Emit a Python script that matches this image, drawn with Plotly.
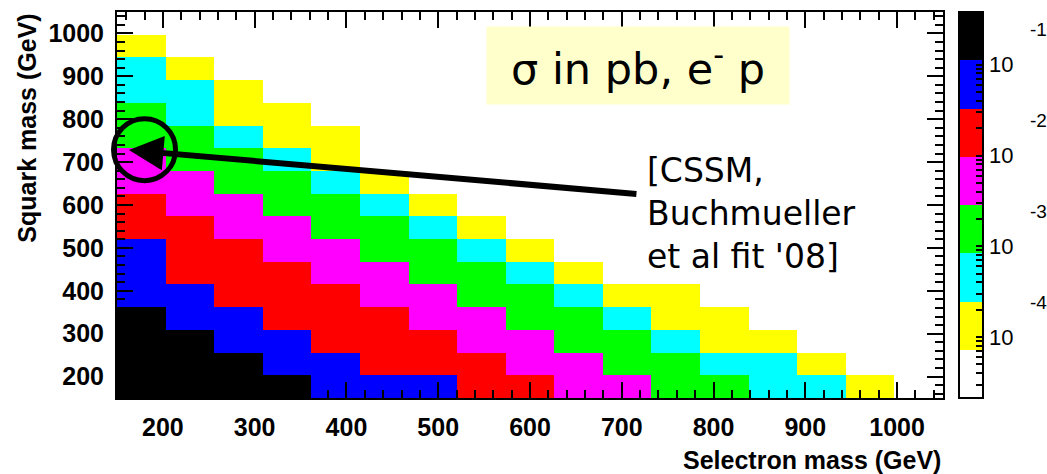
import numpy as np
import plotly.graph_objects as go

# ---------------- data ----------------
# Bin edges (GeV): 17 bins between 150 and 1050 on both axes
selectron_edges = np.linspace(150, 1050, 18)
squark_edges = np.linspace(150, 1050, 18)

# Cross section sigma (pb), one row per squark-mass bin (bottom -> top),
# one column per selectron-mass bin (left -> right); None = no entry
sigma_row_00 = [0.21, 0.21, 0.21, 0.21, 0.062, 0.062, 0.062, 0.018, 0.018, 0.0052, 0.0052, 0.0016, 0.0016, 0.00046, 0.00046, 0.00013, None]
sigma_row_01 = [0.21, 0.21, 0.21, 0.062, 0.062, 0.018, 0.018, 0.018, 0.0052, 0.0052, 0.0016, 0.0016, 0.00046, 0.00046, 0.00013, None, None]
sigma_row_02 = [0.21, 0.21, 0.062, 0.062, 0.018, 0.018, 0.018, 0.0052, 0.0052, 0.0016, 0.0016, 0.00046, 0.00013, 0.00013, None, None, None]
sigma_row_03 = [0.21, 0.062, 0.062, 0.018, 0.018, 0.018, 0.0052, 0.0052, 0.0016, 0.0016, 0.00046, 0.00013, 0.00013, None, None, None, None]
sigma_row_04 = [0.062, 0.062, 0.018, 0.018, 0.018, 0.0052, 0.0052, 0.0016, 0.0016, 0.00046, 0.00013, 0.00013, None, None, None, None, None]
sigma_row_05 = [0.062, 0.018, 0.018, 0.018, 0.0052, 0.0052, 0.0016, 0.0016, 0.00046, 0.00013, None, None, None, None, None, None, None]
sigma_row_06 = [0.062, 0.018, 0.018, 0.0052, 0.0052, 0.0016, 0.0016, 0.00046, 0.00013, None, None, None, None, None, None, None, None]
sigma_row_07 = [0.018, 0.018, 0.0052, 0.0052, 0.0016, 0.0016, 0.00046, 0.00013, None, None, None, None, None, None, None, None, None]
sigma_row_08 = [0.018, 0.0052, 0.0052, 0.0016, 0.0016, 0.00046, 0.00013, None, None, None, None, None, None, None, None, None, None]
sigma_row_09 = [0.0052, 0.0052, 0.0016, 0.0016, 0.00046, 0.00013, None, None, None, None, None, None, None, None, None, None, None]
sigma_row_10 = [0.0052, 0.0016, 0.0016, 0.00046, 0.00013, None, None, None, None, None, None, None, None, None, None, None, None]
sigma_row_11 = [0.0016, 0.0016, 0.00046, 0.00013, 0.00013, None, None, None, None, None, None, None, None, None, None, None, None]
sigma_row_12 = [0.0016, 0.00046, 0.00013, 0.00013, None, None, None, None, None, None, None, None, None, None, None, None, None]
sigma_row_13 = [0.00046, 0.00046, 0.00013, None, None, None, None, None, None, None, None, None, None, None, None, None, None]
sigma_row_14 = [0.00046, 0.00013, None, None, None, None, None, None, None, None, None, None, None, None, None, None, None]
sigma_row_15 = [0.00013, None, None, None, None, None, None, None, None, None, None, None, None, None, None, None, None]
sigma_row_16 = [None] * 17

sigma_rows = [sigma_row_00, sigma_row_01, sigma_row_02, sigma_row_03, sigma_row_04,
              sigma_row_05, sigma_row_06, sigma_row_07, sigma_row_08, sigma_row_09,
              sigma_row_10, sigma_row_11, sigma_row_12, sigma_row_13, sigma_row_14,
              sigma_row_15, sigma_row_16]

# colour-axis range (log10 sigma)
log_sigma_min = -4.67
log_sigma_max = -0.42
palette = ["#ffffff", "#ffff00", "#00ffff", "#00ff00", "#ff00ff", "#ff0000", "#0000ff", "#000000"]

axis_ticks = [200, 300, 400, 500, 600, 700, 800, 900, 1000]
cbar_decades = [-1, -2, -3, -4]

# CSSM fit point (Buchmueller et al. '08)
cssm_fit = (180, 729)
arrow_tip = (163, 728)

# ---------------- figure ----------------
z = np.array([[np.nan if v is None else np.log10(v) for v in row] for row in sigma_rows])

n = len(palette)
colorscale = []
for k, c in enumerate(palette):
    colorscale.append([k / n, c])
    colorscale.append([(k + 1) / n, c])

minor_vals, minor_text = [], []
for d in range(-5, 0):
    for m in range(1, 10):
        v = d + np.log10(m)
        if log_sigma_min <= v <= log_sigma_max:
            minor_vals.append(v)
            minor_text.append("10" if m == 1 else " ")

fig = go.Figure()
fig.add_trace(go.Heatmap(
    x=selectron_edges, y=squark_edges, z=z,
    zmin=log_sigma_min, zmax=log_sigma_max,
    colorscale=colorscale, hoverongaps=False,
    colorbar=dict(
        x=1.0194, xanchor="left", xpad=0, y=0.5, yanchor="middle", ypad=0,
        len=1, lenmode="fraction", thickness=24, thicknessmode="pixels",
        outlinecolor="black", outlinewidth=2,
        tickmode="array", tickvals=minor_vals, ticktext=minor_text,
        ticks="inside", ticklen=8, tickcolor="black", tickwidth=1.5,
        tickfont=dict(family="Liberation Sans, Arial", size=22, color="black"),
    ),
))

axis_common = dict(
    range=[150, 1050], tickmode="array", tickvals=axis_ticks,
    ticks="inside", ticklen=16, tickwidth=1.5, tickcolor="black",
    minor=dict(ticks="inside", dtick=20, ticklen=8, tickwidth=1.5, tickcolor="black"),
    showline=True, linecolor="black", linewidth=2, mirror="ticks",
    showgrid=False, zeroline=False,
    tickfont=dict(family="Liberation Sans, Arial", size=25, color="black", weight="bold"),
)
fig.update_xaxes(**axis_common, ticklabelstandoff=6)
fig.update_yaxes(**axis_common, ticklabelstandoff=6)

annotations = []
# axis titles (ROOT style, aligned to axis ends)
annotations.append(dict(text="Selectron mass (GeV)", xref="paper", yref="paper",
                        x=1.0, y=-0.16, xanchor="right", yanchor="middle", showarrow=False,
                        font=dict(family="Liberation Sans, Arial", size=25, color="black", weight="bold")))
annotations.append(dict(text="Squark mass (GeV)", xref="paper", yref="paper", textangle=-90,
                        x=-0.110, y=1.0, xanchor="center", yanchor="top", showarrow=False,
                        font=dict(family="Liberation Sans, Arial", size=25, color="black", weight="bold")))
# colorbar exponents
for d in cbar_decades:
    frac = (d - log_sigma_min) / (log_sigma_max - log_sigma_min)
    annotations.append(dict(text=f"{d}", xref="paper", yref="paper",
                            x=1.1155, y=frac + 0.09, xanchor="center", yanchor="middle",
                            showarrow=False,
                            font=dict(family="Liberation Sans, Arial", size=19, color="black")))
# sigma label box
annotations.append(dict(text="σ in pb, e<sup>-</sup> p", xref="paper", yref="paper",
                        x=0.6308, y=0.862, xanchor="center", yanchor="middle",
                        width=302, height=77, borderpad=0, bgcolor="#ffffcc",
                        showarrow=False, align="center", valign="middle",
                        font=dict(family="DejaVu Sans", size=43, color="black")))
# CSSM label
annotations.append(dict(text="[CSSM,<br>Buchmueller<br>et al fit '08]", xref="paper", yref="paper",
                        x=0.639, y=0.477, xanchor="left", yanchor="middle", align="left",
                        showarrow=False,
                        font=dict(family="DejaVu Sans", size=33, color="black")))
# arrow to fit point
annotations.append(dict(text="", x=arrow_tip[0], y=arrow_tip[1], xref="x", yref="y",
                        ax=509, ay=44, axref="pixel", ayref="pixel",
                        showarrow=True, arrowhead=2, arrowsize=1.15, arrowwidth=6,
                        arrowcolor="black", standoff=0))

cx = (cssm_fit[0] - 150) / 900
cy = (cssm_fit[1] - 150) / 900
fig.add_shape(type="circle", xref="paper", yref="paper",
              xsizemode="pixel", ysizemode="pixel", xanchor=cx, yanchor=cy,
              x0=-31, x1=31, y0=-31, y1=31,
              line=dict(color="black", width=5), layer="above")

fig.update_layout(
    width=1047, height=474,
    margin=dict(l=117, r=104, t=10, b=76),
    paper_bgcolor="white", plot_bgcolor="white",
    annotations=annotations, showlegend=False,
)

fig.write_html("out.html", config={"displayModeBar": False},
               post_script="document.body.style.margin='0px';document.body.style.overflow='hidden';")
